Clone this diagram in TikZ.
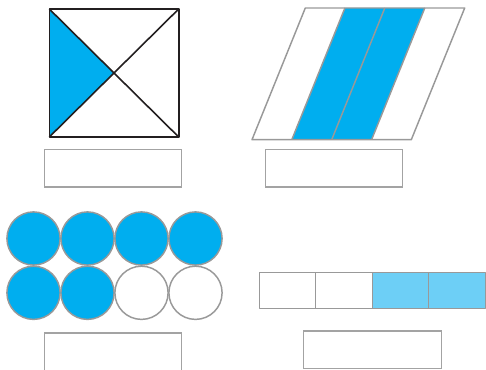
\documentclass[tikz,border=0pt]{standalone}
\definecolor{cyanblue}{HTML}{00AEEF}
\definecolor{lightblue}{HTML}{6DCFF6}
\definecolor{edgegray}{HTML}{999999}
\definecolor{darkline}{HTML}{231F20}
\tikzset{
  grayline/.style={draw=edgegray, line width=1.1pt, line join=round},
  answerbox/.style={draw=edgegray!90, line width=1.1pt},
  darkedge/.style={draw=darkline, line width=1.2pt, line join=round}
}
\begin{document}
\begin{tikzpicture}[x=0.75pt,y=-0.75pt]
\useasboundingbox (0,0) rectangle (486,370);
\clip (0,0) rectangle (486,370);
% --- square with diagonals ---
\fill[cyanblue] (49.3,9) -- (114,73) -- (49.3,137) -- cycle;
\draw[darkedge] (49.3,9) rectangle (178.7,137);
\draw[darkedge] (49.3,9) -- (178.7,137);
\draw[darkedge] (178.7,9) -- (49.3,137);
\draw[answerbox] (44.7,149.7) rectangle (181.7,187);
% --- parallelogram ---
\fill[cyanblue] (344.9,8) -- (424.8,8) -- (371.6,139.7) -- (291.8,139.7) -- cycle;
\draw[grayline] (305.3,8) -- (464.7,8) -- (411.3,139.7) -- (252,139.7) -- cycle;
\draw[grayline] (344.9,8) -- (291.8,139.7);
\draw[grayline] (384.8,8) -- (331.7,139.7);
\draw[grayline] (424.8,8) -- (371.6,139.7);
\draw[answerbox] (265.7,149.7) rectangle (402.7,187);
% --- circles ---
\foreach \cx in {33.5,87.5,141.5,195.5}
  \draw[grayline, fill=cyanblue] (\cx,238.5) circle[radius=26.6];
\foreach \cx in {33.5,87.5}
  \draw[grayline, fill=cyanblue] (\cx,292.8) circle[radius=26.6];
\foreach \cx in {141.5,195.5}
  \draw[grayline, fill=white] (\cx,292.8) circle[radius=26.6];
\draw[answerbox] (44.7,333) rectangle (181.7,390);
% --- bar ---
\fill[lightblue] (372.3,272.3) rectangle (485.3,308.7);
\draw[grayline] (259.3,272.3) rectangle (485.3,308.7);
\foreach \bx in {315.7,372.3,428.7}
  \draw[grayline] (\bx,272.3) -- (\bx,308.7);
\draw[answerbox] (303.7,331) rectangle (441.3,368.7);
\end{tikzpicture}
\end{document}
